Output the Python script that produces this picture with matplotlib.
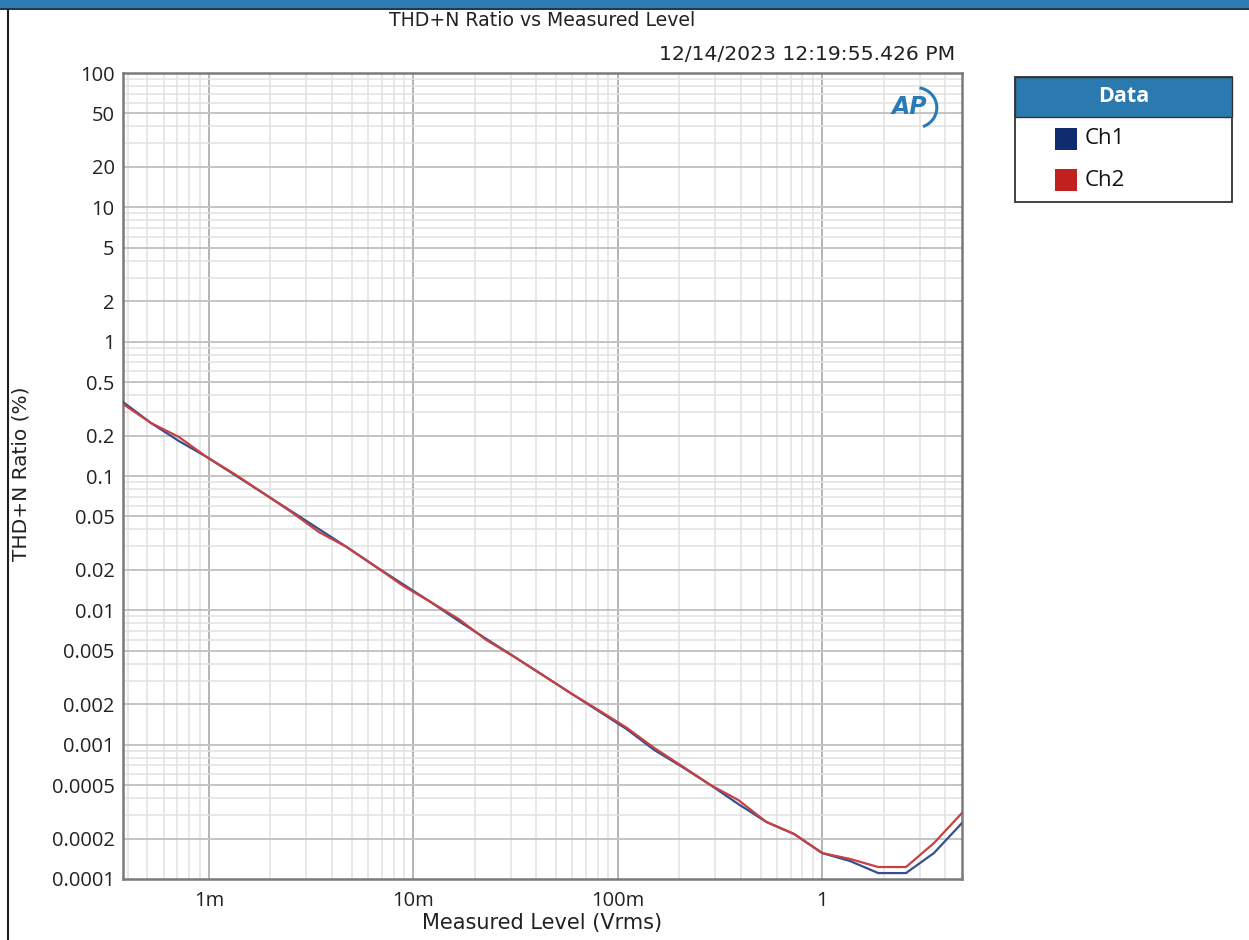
import matplotlib
matplotlib.use("Agg")
import matplotlib.pyplot as plt
from matplotlib.patches import Rectangle, Arc
from matplotlib.ticker import FixedLocator, NullFormatter, NullLocator

# ---------------- data ----------------
level_v = [0.000380, 0.000521, 0.000713, 0.000977, 0.00134, 0.00184, 0.00252,
           0.00345, 0.00472, 0.00648, 0.00887, 0.01216, 0.01667, 0.0228,
           0.0313, 0.0429, 0.0587, 0.0805, 0.1103, 0.151, 0.207, 0.284,
           0.389, 0.533, 0.730, 1.0, 1.37, 1.88, 2.57, 3.52, 4.83]

ch1_pct = [0.3556, 0.2480, 0.1822, 0.1384, 0.1017, 0.07469, 0.05487,
           0.04031, 0.02961, 0.02137, 0.01570, 0.01153, 0.008325, 0.006116,
           0.004493, 0.00330, 0.002424, 0.001781, 0.001308, 0.000912,
           0.000682, 0.000501, 0.000361, 0.000266, 0.000216, 0.000156,
           0.000136, 0.0001107, 0.0001107, 0.000156, 0.000261]

ch2_pct = [0.3435, 0.2480, 0.1952, 0.1384, 0.1030, 0.07469, 0.05420,
           0.03829, 0.02961, 0.02137, 0.01530, 0.01153, 0.008617, 0.006000,
           0.004493, 0.00330, 0.002424, 0.001810, 0.001340, 0.000944,
           0.000690, 0.000501, 0.000387, 0.000266, 0.000216, 0.000156,
           0.000141, 0.0001228, 0.0001228, 0.000185, 0.000310]

x_ticks = [0.001, 0.01, 0.1, 1]
x_labels = ["1m", "10m", "100m", "1"]
y_ticks = [100, 50, 20, 10, 5, 2, 1, 0.5, 0.2, 0.1, 0.05, 0.02, 0.01, 0.005,
           0.002, 0.001, 0.0005, 0.0002, 0.0001]
y_labels = ["100", "50", "20", "10", "5", "2", "1", "0.5", "0.2", "0.1", "0.05",
            "0.02", "0.01", "0.005", "0.002", "0.001", "0.0005", "0.0002", "0.0001"]

series_names = ["Ch1", "Ch2"]
line_colors = ["#34508e", "#c8403f"]
legend_colors = ["#0f2d6e", "#c0211f"]

# ---------------- figure ----------------
W, H = 1249, 940
fig = plt.figure(figsize=(W / 100, H / 100), dpi=100)
fig.patch.set_facecolor("white")

font = "DejaVu Sans"
tickfont = "Open Sans"

# top blue strip and left border
fig.add_artist(Rectangle((0, 1 - 8 / H), 1, 8 / H, transform=fig.transFigure,
                         facecolor="#2e7db5", edgecolor="none"))
fig.add_artist(Rectangle((0, 1 - 10 / H), 1, 2 / H, transform=fig.transFigure,
                         facecolor="#1d3b55", edgecolor="none"))
fig.add_artist(plt.Line2D([8 / W, 8 / W], [0, 1 - 10 / H], transform=fig.transFigure,
                          color="#202020", lw=1.5))

L, R, T, B = 123, 962, 73, 879
ax = fig.add_axes([L / W, 1 - B / H, (R - L) / W, (B - T) / H])
ax.set_xscale("log")
ax.set_yscale("log")
ax.set_xlim(0.000380, 4.83)
ax.set_ylim(0.0001, 100)

# grid
minor_x = []
for dec in [0.0001, 0.001, 0.01, 0.1, 1]:
    for m in range(2, 10):
        minor_x.append(dec * m)
for v in minor_x:
    if 0.000380 < v < 4.83:
        ax.axvline(v, color="#e2e2e2", lw=1.1, zorder=0)
for v in x_ticks:
    ax.axvline(v, color="#b4b4b4", lw=1.4, zorder=0)

minor_y = []
for dec in [0.0001, 0.001, 0.01, 0.1, 1, 10]:
    for m in [3, 4, 6, 7, 8, 9]:
        minor_y.append(dec * m)
for v in minor_y:
    ax.axhline(v, color="#e2e2e2", lw=1.1, zorder=0)
for v in y_ticks:
    if v in (100, 0.0001):
        continue
    ax.axhline(v, color="#c4c4c4", lw=1.4, zorder=0)

ax.plot(level_v, ch1_pct, color=line_colors[0], lw=1.6, zorder=3)
ax.plot(level_v, ch2_pct, color=line_colors[1], lw=1.6, zorder=4)

ax.xaxis.set_major_locator(FixedLocator(x_ticks))
ax.set_xticklabels(x_labels, fontsize=14.5, family=tickfont, color="#222222")
ax.xaxis.set_minor_locator(NullLocator())
ax.xaxis.set_minor_formatter(NullFormatter())
ax.yaxis.set_major_locator(FixedLocator(y_ticks))
ax.set_yticklabels(y_labels, fontsize=14.5, family=tickfont, color="#222222")
ax.yaxis.set_minor_locator(NullLocator())
ax.yaxis.set_minor_formatter(NullFormatter())
ax.tick_params(axis="both", length=0)
ax.tick_params(axis="x", pad=9)
ax.tick_params(axis="y", pad=6)

for s in ax.spines.values():
    s.set_color("#7a7a7a")
    s.set_linewidth(1.8)

ax.set_xlabel("Measured Level (Vrms)", fontsize=15, family=font, color="#222222", labelpad=1)
ax.set_ylabel("THD+N Ratio (%)", fontsize=14.5, family=font, color="#222222")
ax.yaxis.set_label_coords((30 - L) / (R - L), (B - 474) / (B - T))

# titles
fig.text(542 / W, 1 - 20 / H, "THD+N Ratio vs Measured Level", ha="center", va="center",
         fontsize=13.6, family=font, color="#222222")
fig.text(955 / W, 1 - 54 / H, "12/14/2023 12:19:55.426 PM", ha="right", va="center",
         fontsize=14.7, family=font, color="#222222")

# AP logo
ax.text(0.9375, 0.9575, "AP", transform=ax.transAxes, ha="center", va="center",
        fontsize=17, fontweight="bold", style="italic", color="#2a7ab8", family=font, zorder=5)
ax.add_artist(Arc((0.945, 0.957), 0.05, 0.05, transform=ax.transAxes, theta1=-70, theta2=80,
                  color="#2a7ab8", lw=2.2, zorder=5))

# legend box
lx0, lx1, ly0, ly1 = 1015, 1232, 77, 202
fig.add_artist(Rectangle((lx0 / W, 1 - ly1 / H), (lx1 - lx0) / W, (ly1 - ly0) / H,
                         transform=fig.transFigure, facecolor="white",
                         edgecolor="#333333", lw=1.3))
fig.add_artist(Rectangle((lx0 / W, 1 - 117 / H), (lx1 - lx0) / W, (117 - ly0) / H,
                         transform=fig.transFigure, facecolor="#2a7ab0",
                         edgecolor="#333333", lw=1.0))
fig.text((lx0 + lx1) / 2 / W, 1 - 97 / H, "Data", ha="center", va="center",
         fontsize=15.5, fontweight="bold", color="white", family=tickfont)
for i, (name, c) in enumerate(zip(series_names, legend_colors)):
    yc = 139 + 41 * i
    fig.add_artist(Rectangle((1055 / W, 1 - (yc + 11) / H), 22 / W, 22 / H,
                             transform=fig.transFigure, facecolor=c, edgecolor="none"))
    fig.text(1085 / W, 1 - yc / H, name, ha="left", va="center", fontsize=16,
             family=tickfont, color="#111111")

fig.savefig("out.png", dpi=100, facecolor="white")
